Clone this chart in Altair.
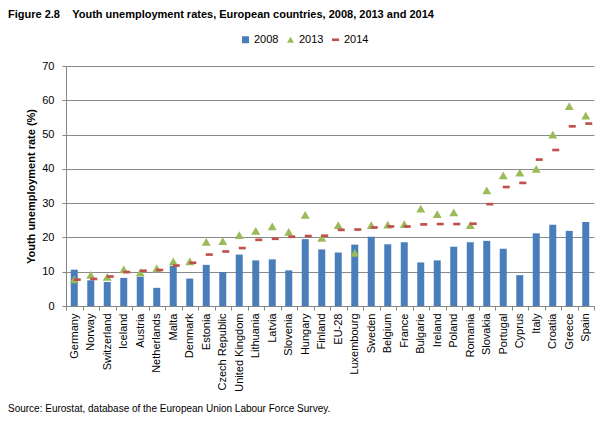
import altair as alt
import pandas as pd

# Youth unemployment rates (%), age 15-24
countries = [
    "Germany", "Norway", "Switzerland", "Iceland", "Austria", "Netherlands",
    "Malta", "Denmark", "Estonia", "Czech Republic", "United Kingdom",
    "Lithuania", "Latvia", "Slovenia", "Hungary", "Finland", "EU-28",
    "Luxembourg", "Sweden", "Belgium", "France", "Bulgarie", "Ireland",
    "Poland", "Romania", "Slovakia", "Portugal", "Cyprus", "Italy",
    "Croatia", "Greece", "Spain",
]
rate_2008 = [10.6, 7.5, 7.0, 8.2, 8.5, 5.3, 11.7, 8.0, 12.0, 9.9, 15.0,
             13.3, 13.6, 10.4, 19.5, 16.5, 15.6, 17.9, 20.2, 18.0, 18.6,
             12.7, 13.3, 17.3, 18.6, 19.0, 16.7, 9.0, 21.2, 23.7, 21.9, 24.5]
rate_2013 = [7.8, 9.1, 8.5, 10.7, 9.7, 11.0, 13.0, 13.0, 18.7, 18.9, 20.7,
             21.9, 23.2, 21.6, 26.6, 19.9, 23.6, 15.5, 23.6, 23.7, 23.9,
             28.4, 26.8, 27.3, 23.6, 33.7, 38.1, 38.9, 40.0, 50.0, 58.3, 55.5]
rate_2014 = [7.7, 7.9, 8.6, 9.9, 10.3, 10.5, 11.8, 12.6, 15.0, 15.9, 16.9,
             19.3, 19.6, 20.2, 20.4, 20.5, 22.2, 22.3, 22.9, 23.2, 23.2,
             23.8, 23.9, 23.9, 24.0, 29.7, 34.7, 35.9, 42.7, 45.5, 52.4, 53.2]
series = ["2008", "2013", "2014"]
series_colors = ["#4A7EBB", "#9BBB59", "#C0504D"]

title_label = "Figure 2.8"
title_text = "Youth unemployment rates, European countries, 2008, 2013 and 2014"
y_title = "Youth unemployment rate (%)"
source_text = "Source: Eurostat, database of the European Union Labour Force Survey."

FONT = "Liberation Sans, Arial, sans-serif"
DASH = "M-1,-0.38L1,-0.38L1,0.38L-1,0.38Z"

rows = []
for yr, vals in zip(series, [rate_2008, rate_2013, rate_2014]):
    for c, v in zip(countries, vals):
        rows.append({"country": c, "series": yr, "value": v})
df = pd.DataFrame(rows)

x_enc = alt.X(
    "country:N", sort=countries, title=None,
    scale=alt.Scale(paddingInner=0, paddingOuter=0),
    axis=alt.Axis(labelAngle=-90, tickBand="extent", tickSize=4,
                  labelPadding=3, grid=False),
)
y_enc = alt.Y(
    "value:Q", title=y_title,
    scale=alt.Scale(domain=[0, 70], nice=False),
    axis=alt.Axis(values=list(range(0, 71, 10)), tickSize=4, labelPadding=8,
                  titlePadding=5, titleFontWeight="bold"),
)
color_enc = alt.Color(
    "series:N", title=None,
    scale=alt.Scale(domain=series, range=series_colors),
    legend=alt.Legend(orient="none", direction="horizontal", legendX=174,
                      legendY=-32, symbolSize=49, columnPadding=6,
                      labelOffset=3, symbolStrokeWidth=0),
)
shape_enc = alt.Shape(
    "series:N", title=None,
    scale=alt.Scale(domain=series, range=["square", "triangle-up", DASH]),
)

base = alt.Chart(df)

bars = base.transform_filter(alt.datum.series == "2008").mark_bar(size=7).encode(
    x=x_enc, y=y_enc, color=color_enc
)
triangles = base.transform_filter(alt.datum.series == "2013").mark_point(
    filled=True, opacity=1, size=80
).encode(x=x_enc, y=y_enc, color=color_enc, shape=shape_enc)
dashes = base.transform_filter(alt.datum.series == "2014").mark_point(
    filled=True, opacity=1, size=49, xOffset=3
).encode(x=x_enc, y=y_enc, color=color_enc, shape=shape_enc)

source = alt.Chart(alt.Data(values=[{"t": source_text}])).mark_text(
    align="left", baseline="middle", font=FONT, fontSize=10, color="#000000"
).encode(x=alt.value(-58), y=alt.value(343), text="t:N")

chart = alt.layer(bars, triangles, dashes, source).properties(
    width=528,
    height=240,
    autosize=alt.AutoSizeParams(type="none"),
    padding={"left": 66, "top": 66, "right": 6, "bottom": 115},
    title=alt.TitleParams(
        text=title_label + "\u00a0" * 4 + title_text,
        anchor="start", frame="group", dx=-58, offset=14,
        font=FONT, fontSize=11, fontWeight="bold", color="#000000",
    ),
).configure_view(stroke=None).configure_axis(
    labelFont=FONT, titleFont=FONT, labelFontSize=11, titleFontSize=11,
    labelColor="#000000", titleColor="#000000",
    domainColor="#868686", tickColor="#868686", gridColor="#8a8a8a",
).configure_legend(
    labelFont=FONT, labelFontSize=11, labelColor="#000000",
)

chart.save("out.html", embed_options={"renderer": "svg", "actions": False})
